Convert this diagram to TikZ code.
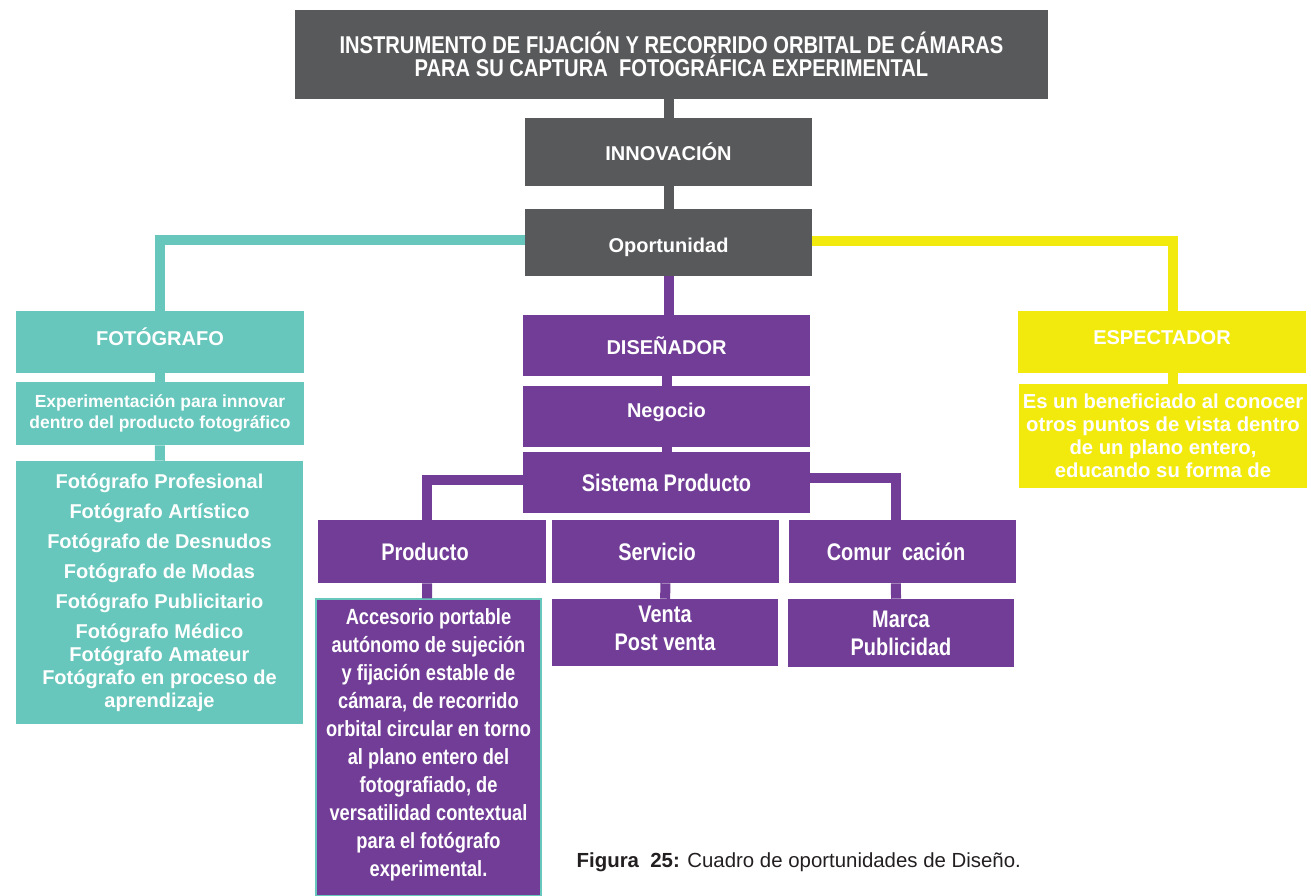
\documentclass[tikz,border=0pt]{standalone}
\usepackage{fontspec}
\setmainfont{Liberation Sans}
\newfontfamily\narrowfont[FakeStretch=0.83]{Liberation Sans}
\usetikzlibrary{positioning}

\definecolor{boxgray}{HTML}{58595B}
\definecolor{boxteal}{HTML}{67C7BC}
\definecolor{boxyellow}{HTML}{F3EA0D}
\definecolor{boxpurple}{HTML}{713D96}
\definecolor{captext}{HTML}{231F20}

\tikzset{
  box/.style={rectangle, inner sep=0pt, text=white, align=center},
  boxsize/.style 2 args={minimum width=#1*0.75pt, minimum height=#2*0.75pt},
  lift/.style={text depth=#1},
  wide/.style={font=\fontsize{15}{19}\selectfont\bfseries},
  narrow/.style={font=\narrowfont\fontsize{18}{21}\selectfont\bfseries},
  graybox/.style={box, fill=boxgray},
  tealbox/.style={box, fill=boxteal, wide},
  yellowbox/.style={box, fill=boxyellow, wide},
  purplebox/.style={box, fill=boxpurple},
  link/.style={line width=7.5pt},
}

\begin{document}
\begin{tikzpicture}[x=0.75pt,y=-0.75pt]
  \useasboundingbox (0,0) rectangle (1311,896);

  % top of the chart
  \node[graybox, boxsize={753}{89}, font=\narrowfont\fontsize{18.2}{17.4}\selectfont\bfseries]
    (title) at (671.5,54.5)
    {INSTRUMENTO DE FIJACIÓN Y RECORRIDO ORBITAL DE CÁMARAS\\PARA SU CAPTURA\ \ FOTOGRÁFICA EXPERIMENTAL};
  \node[graybox, boxsize={287}{68}, wide, text height=13pt] (innov) at (668.5,152) {INNOVACIÓN};
  \node[graybox, boxsize={287}{67}, wide, text height=18pt] (opor) at (668.5,242.5) {Oportunidad};

  % fotografo branch
  \node[tealbox, boxsize={288}{62}, lift=7.5pt] (foto) at (160,342) {FOTÓGRAFO};
  \node[tealbox, boxsize={288}{63}, font=\fontsize{13.1}{16}\selectfont\bfseries]
    (fexp) at (160,413.5) {Experimentación para innovar\\dentro del producto fotográfico};
  \node[tealbox, boxsize={287}{263}, font=\fontsize{15}{17.25}\selectfont\bfseries]
    (flist) at (159.5,592.5)
    {Fotógrafo Profesional\\[5.25pt]Fotógrafo Artístico\\[5.25pt]Fotógrafo de Desnudos\\[5.25pt]%
     Fotógrafo de Modas\\[5.25pt]Fotógrafo Publicitario\\[5.25pt]Fotógrafo Médico\\%
     Fotógrafo Amateur\\Fotógrafo en proceso de\\aprendizaje};

  % espectador branch
  \node[yellowbox, boxsize={288}{62}, lift=6pt] (espec) at (1162,342) {ESPECTADOR};
  \node[yellowbox, boxsize={288}{104}, font=\fontsize{15.2}{17.3}\selectfont\bfseries]
    (edesc) at (1163,436)
    {Es un beneficiado al conocer\\otros puntos de vista dentro\\de un plano entero,\\educando su forma de};

  % disenador branch
  \node[purplebox, boxsize={287}{61}, wide] (disen) at (666.5,345.5) {DISEÑADOR};
  \node[purplebox, boxsize={287}{61}, wide, lift=9.5pt] (nego) at (666.5,416.5) {Negocio};
  \node[purplebox, boxsize={287}{61}, narrow] (sist) at (666.5,482.5) {Sistema Producto};
  \node[purplebox, boxsize={228}{63}, narrow] (prod) at (432,551.5) {Producto\hspace*{10.5pt}};
  \node[purplebox, boxsize={227}{63}, narrow] (serv) at (665.5,551.5) {Servicio\hspace*{12.75pt}};
  \node[purplebox, boxsize={227}{63}, narrow] (comu) at (902.5,551.5) {Comur\ \ cación\hspace*{9.75pt}};
  \node[purplebox, boxsize={225}{297}, draw=boxteal, line width=0.8pt, lift=8pt,
    font=\narrowfont\fontsize{16.5}{21}\selectfont\bfseries] (acces) at (428.5,747.5)
    {Accesorio portable\\autónomo de sujeción\\y fijación estable de\\cámara, de recorrido\\%
     orbital circular en torno\\al plano entero del\\fotografiado, de\\versatilidad contextual\\%
     para el fotógrafo\\experimental.};
  \node[purplebox, boxsize={226}{67}, narrow, lift=7pt] (venta) at (665,632.5) {Venta\\Post venta};
  \node[purplebox, boxsize={226}{68}, narrow] (marca) at (901,633) {Marca\\Publicidad};

  \node[text=captext, font=\fontsize{15.3}{18}\selectfont, anchor=west] (caption) at (572,862)
    {\textbf{Figura\ \ 25:} Cuadro de oportunidades de Diseño.};

  % connectors
  \draw[link, boxgray] (innov.north |- title.south) -- (innov.north);
  \draw[link, boxgray] (innov) -- (opor);
  \draw[link, boxpurple] (opor) -- (opor.south |- disen.north);
  \draw[link, boxteal] ([yshift=2.25pt]opor.west) -| (foto.north);
  \draw[link, boxyellow] ([yshift=1.5pt]opor.east) -| ([xshift=8.25pt]espec.north);
  \draw[link, boxteal] (foto) -- (fexp);
  \draw[link, boxteal] (fexp) -- (flist);
  \draw[link, boxyellow] ([xshift=8.25pt]espec.south) -- ([xshift=7.5pt]edesc.north);
  \draw[link, boxpurple] (disen) -- (nego);
  \draw[link, boxpurple] (nego) -- (sist);
  \draw[link, boxpurple] ([yshift=1.9pt]sist.west) -| ([xshift=-3.75pt]prod.north);
  \draw[link, boxpurple] ([yshift=3.4pt]sist.east) -| ([xshift=-4.9pt]comu.north);
  \draw[link, boxpurple] ([xshift=-3.75pt]prod.south) -- ([xshift=-1.1pt]acces.north);
  \draw[link, boxpurple] (serv) -- (venta);
  \draw[link, boxpurple] ([xshift=-4.9pt]comu.south) -- ([xshift=-3.75pt]marca.north);
\end{tikzpicture}
\end{document}
